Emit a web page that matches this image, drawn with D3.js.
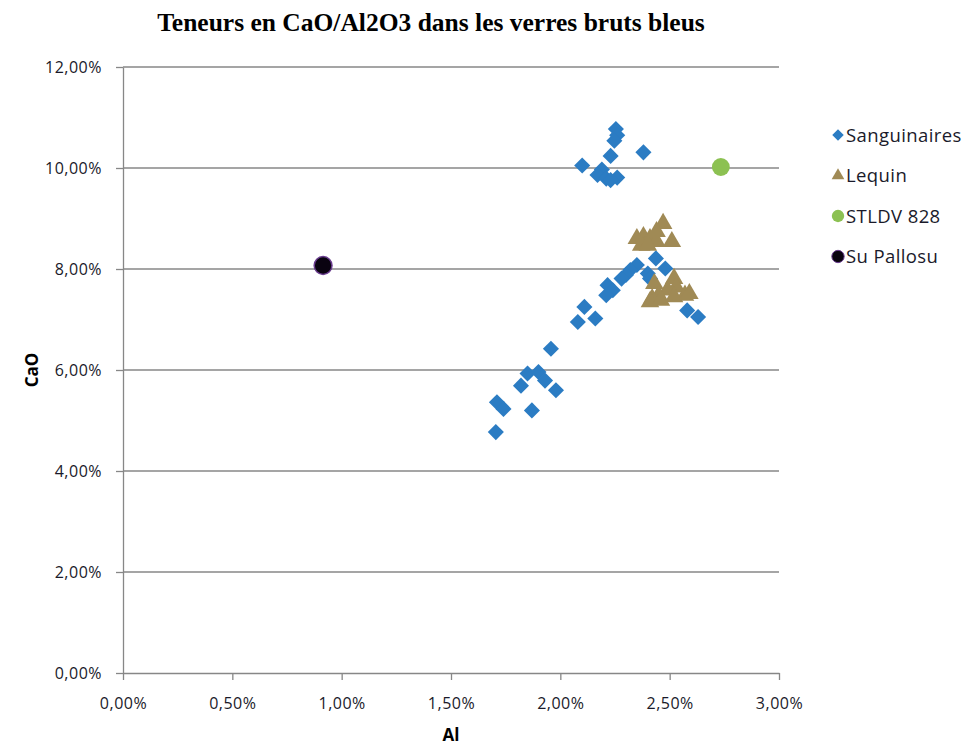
<!DOCTYPE html>
<html>
<head>
<meta charset="utf-8">
<script src="https://cdn.jsdelivr.net/npm/d3@7"></script>
<style>
  body { margin: 0; background: #fff; }
  text { font-family: "Open Sans", "Liberation Sans", sans-serif; }
</style>
</head>
<body>
<svg width="970" height="746"></svg>
<script>
// Data (fractions)
var sanguinairesAl = [2.254, 2.26, 2.247, 2.23, 2.38, 2.10, 2.19, 2.17, 2.21, 2.26, 2.23,
  2.437, 2.48, 2.35, 2.32, 2.30, 2.28, 2.40, 2.41, 2.216, 2.24, 2.21, 2.58, 2.63, 2.11, 2.08, 2.16,
  1.957, 1.85, 1.90, 1.82, 1.93, 1.98, 1.71, 1.74, 1.87, 1.705];
var sanguinairesCaO = [10.77, 10.65, 10.54, 10.24, 10.31, 10.05, 9.97, 9.86, 9.79, 9.81, 9.76,
  8.21, 8.01, 8.08, 7.98, 7.88, 7.81, 7.91, 7.81, 7.68, 7.58, 7.48, 7.18, 7.05, 7.25, 6.95, 7.02,
  6.42, 5.93, 5.96, 5.69, 5.79, 5.60, 5.36, 5.23, 5.20, 4.77];
var lequinAl = [2.47, 2.35, 2.38, 2.41, 2.44, 2.37, 2.40, 2.51, 2.44,
  2.43, 2.52, 2.53, 2.49, 2.57, 2.59, 2.45, 2.42, 2.41, 2.46, 2.52];
var lequinCaO = [8.90, 8.60, 8.64, 8.60, 8.54, 8.47, 8.47, 8.54, 8.74,
  7.71, 7.81, 7.64, 7.58, 7.48, 7.51, 7.48, 7.41, 7.35, 7.38, 7.45];
var stldvAl = [2.734];
var stldvCaO = [10.02];
var pallosuAl = [0.915];
var pallosuCaO = [8.07];

var xTicks = [0, 0.005, 0.01, 0.015, 0.02, 0.025, 0.03];
var yTicks = [0, 0.02, 0.04, 0.06, 0.08, 0.10, 0.12];
var seriesNames = ["Sanguinaires", "Lequin", "STLDV 828", "Su Pallosu"];

function toPoints(al, cao) {
  return al.map(function (a, i) { return [a / 100, cao[i] / 100]; });
}

var series = [
  { name: seriesNames[0], pts: toPoints(sanguinairesAl, sanguinairesCaO), shape: "diamond", fill: "#2b7cc3", stroke: "none" },
  { name: seriesNames[1], pts: toPoints(lequinAl, lequinCaO), shape: "triangle", fill: "#a08a55", stroke: "none" },
  { name: seriesNames[2], pts: toPoints(stldvAl, stldvCaO), shape: "circle", fill: "#8cc152", stroke: "none" },
  { name: seriesNames[3], pts: toPoints(pallosuAl, pallosuCaO), shape: "circle", fill: "#0a0310", stroke: "#6a3d8f" }
];

var svg = d3.select("svg"),
  margin = { top: 67, right: 191, bottom: 73, left: 123 },
  width = svg.attr("width") - margin.left - margin.right,
  height = svg.attr("height") - margin.top - margin.bottom;

var g = svg.append("g")
  .attr("transform", "translate(" + margin.left + "," + margin.top + ")");

var fr = d3.formatLocale({ decimal: ",", thousands: " ", grouping: [3], currency: ["", " €"] });
var pct = fr.format(".2%");

var xScale = d3.scaleLinear().domain([0, 0.03]).range([0, width]);
var yScale = d3.scaleLinear().domain([0, 0.12]).range([height, 0]);

// horizontal gridlines
g.append("g")
  .selectAll("line")
  .data(yTicks.slice(1))
  .enter()
  .append("line")
  .attr("x1", 0)
  .attr("x2", width)
  .attr("y1", function (d) { return yScale(d); })
  .attr("y2", function (d) { return yScale(d); })
  .attr("stroke", "#878787")
  .attr("stroke-width", 1.3);

// axes
var xAxis = g.append("g")
  .attr("transform", "translate(0," + height + ")")
  .call(d3.axisBottom(xScale).tickValues(xTicks).tickFormat(pct).tickSize(7).tickSizeOuter(0));
var yAxis = g.append("g")
  .call(d3.axisLeft(yScale).tickValues(yTicks).tickFormat(pct).tickSize(7).tickSizeOuter(0));

[xAxis, yAxis].forEach(function (ax) {
  ax.select(".domain").attr("stroke", "#878787").attr("stroke-width", 1.3);
  ax.selectAll(".tick line").attr("stroke", "#878787").attr("stroke-width", 1.3);
  ax.selectAll(".tick text")
    .attr("fill", "#1a1a2a")
    .style("font-size", "16px")
    .style("letter-spacing", "0.5px")
    .style("font-family", "'Open Sans', sans-serif");
});
xAxis.selectAll(".tick text").attr("y", 30).attr("dy", "0.35em");
yAxis.selectAll(".tick text").attr("x", -21);

// symbols
var symbolFor = {
  diamond: d3.symbol().type(d3.symbolDiamond2).size(165),
  triangle: d3.symbol().type(d3.symbolTriangle).size(150),
  circle: d3.symbol().type(d3.symbolCircle).size(250)
};

series.forEach(function (s) {
  g.append("g")
    .selectAll("path")
    .data(s.pts)
    .enter()
    .append("path")
    .attr("d", symbolFor[s.shape])
    .attr("transform", function (d) {
      return "translate(" + xScale(d[0]) + "," + yScale(d[1]) + ")";
    })
    .attr("fill", s.fill)
    .attr("stroke", s.stroke)
    .attr("stroke-width", 1.5);
});

// title and axis labels
svg.append("text")
  .attr("x", 431)
  .attr("y", 31)
  .attr("text-anchor", "middle")
  .style("font-family", "'Liberation Serif', 'Times New Roman', serif")
  .style("font-weight", "bold")
  .style("font-size", "25.5px")
  .text("Teneurs en CaO/Al2O3 dans les verres bruts bleus");

svg.append("text")
  .attr("x", margin.left + width / 2)
  .attr("y", 741)
  .attr("text-anchor", "middle")
  .style("font-weight", "bold")
  .style("font-size", "17px")
  .text("Al");

svg.append("text")
  .attr("transform", "translate(38," + (margin.top + height / 2) + ") rotate(-90)")
  .attr("text-anchor", "middle")
  .style("font-weight", "bold")
  .style("font-size", "17px")
  .text("CaO");

// legend
var legendSymbols = {
  diamond: d3.symbol().type(d3.symbolDiamond2).size(85),
  triangle: d3.symbol().type(d3.symbolTriangle).size(70),
  circle: d3.symbol().type(d3.symbolCircle).size(120)
};
var legend = svg.append("g").attr("transform", "translate(838,135)");
series.forEach(function (s, i) {
  var row = legend.append("g").attr("transform", "translate(0," + i * 40.5 + ")");
  row.append("path")
    .attr("d", legendSymbols[s.shape])
    .attr("fill", s.fill)
    .attr("stroke", s.stroke)
    .attr("stroke-width", 1);
  row.append("text")
    .attr("x", 8)
    .attr("y", 6.5)
    .style("font-size", "18.5px")
    .style("letter-spacing", "0.4px")
    .attr("fill", "#1a1a2a")
    .text(s.name);
});
</script>
</body>
</html>
